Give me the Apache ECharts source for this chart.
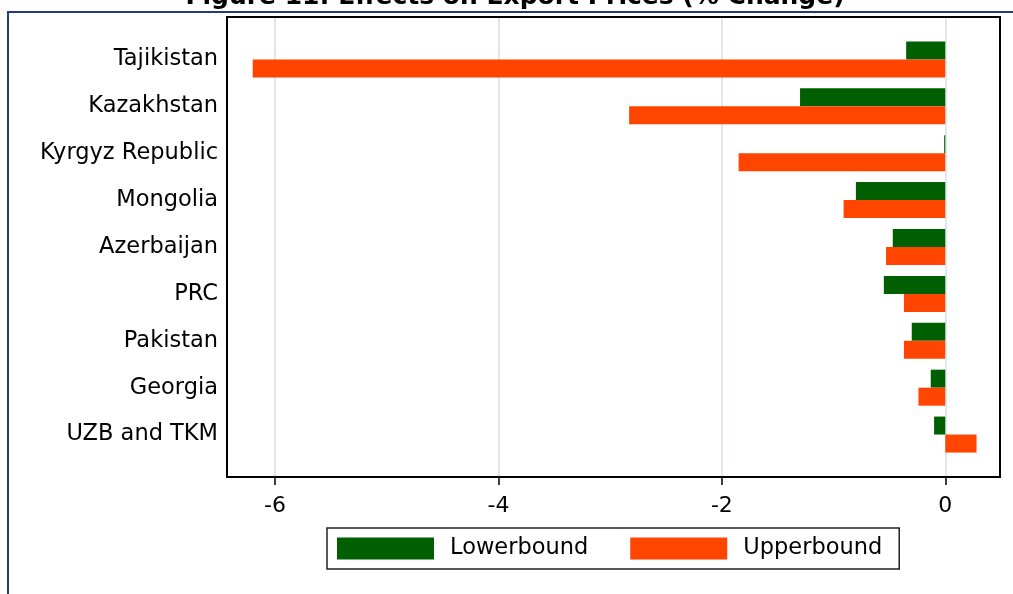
<!DOCTYPE html>
<html><head><meta charset="utf-8">
<script src="https://cdn.jsdelivr.net/npm/echarts@6/dist/echarts.min.js"></script>
<style>html,body{margin:0;padding:0;background:#fff}#c{width:1013px;height:594px}</style>
</head><body><div id="c"></div>
<script>
const categories = ['Tajikistan','Kazakhstan','Kyrgyz Republic','Mongolia','Azerbaijan','PRC','Pakistan','Georgia','UZB and TKM'];
const lowerbound = [-0.35,-1.30,-0.01,-0.80,-0.47,-0.55,-0.30,-0.13,-0.10];
const upperbound = [-6.20,-2.83,-1.85,-0.91,-0.53,-0.37,-0.37,-0.24,0.28];
const seriesNames = ['Lowerbound','Upperbound'];
const titleText = 'Figure 11: Effects on Export Prices (% Change)';
const xMin = -6.43, xMax = 0.49;

const FONT = 'DejaVu Sans';
const chart = echarts.init(document.getElementById('c'), null, {renderer:'canvas'});
chart.setOption({
  animation:false,
  backgroundColor:'#fff',
  graphic:[
    {type:'rect', z:0, shape:{x:8,y:12,width:1100,height:700}, style:{fill:'none',stroke:'#1f3c7c',lineWidth:2}},
    {type:'rect', z:100, shape:{x:227,y:17,width:773,height:460}, style:{fill:'none',stroke:'#000',lineWidth:2}},
    {type:'text', z:10, x:515, y:-3, style:{text:titleText, font:'bold 25px "DejaVu Sans"', fill:'#000', textAlign:'center', textVerticalAlign:'middle'}}
  ],
  grid:[
    {left:227,right:13,top:17,bottom:117,show:false},
    {left:227,right:13,top:36,bottom:136}
  ],
  xAxis:[
    {gridIndex:0,type:'value',min:xMin,max:xMax,splitNumber:4,
     axisLine:{show:true,lineStyle:{color:'#000',width:2}},
     axisTick:{show:true,length:8,lineStyle:{color:'#000',width:1.5}},
     splitLine:{show:true,showMinLine:false,showMaxLine:false,lineStyle:{color:'#dfe9ed',width:2}},
     axisLabel:{fontFamily:FONT,fontSize:22,color:'#000',margin:18,showMinLabel:false,showMaxLabel:false}},
    {gridIndex:1,type:'value',min:xMin,max:xMax,show:false,splitLine:{show:false}}
  ],
  yAxis:[
    {gridIndex:0,type:'value',show:false,splitLine:{show:false}},
    {gridIndex:1,type:'category',inverse:true,data:categories,
     axisLine:{show:false},axisTick:{show:false},
     axisLabel:{fontFamily:FONT,fontSize:22.5,color:'#000',margin:9}}
  ],
  legend:{
    left:327, top:528, orient:'horizontal',
    data:seriesNames, icon:'rect', itemWidth:97, itemHeight:22, itemGap:42,
    padding:[9,17,9,10], borderColor:'#222', borderWidth:1.5,
    textStyle:{fontFamily:FONT,fontSize:22.5,color:'#000',padding:[0,0,0,11]}
  },
  series:[
    {name:seriesNames[0],type:'bar',xAxisIndex:1,yAxisIndex:1,data:lowerbound,barWidth:18,barGap:'0%',itemStyle:{color:'#005f00'}},
    {name:seriesNames[1],type:'bar',xAxisIndex:1,yAxisIndex:1,data:upperbound,barWidth:18,barGap:'0%',itemStyle:{color:'#ff4500'}}
  ]
});
</script></body></html>
